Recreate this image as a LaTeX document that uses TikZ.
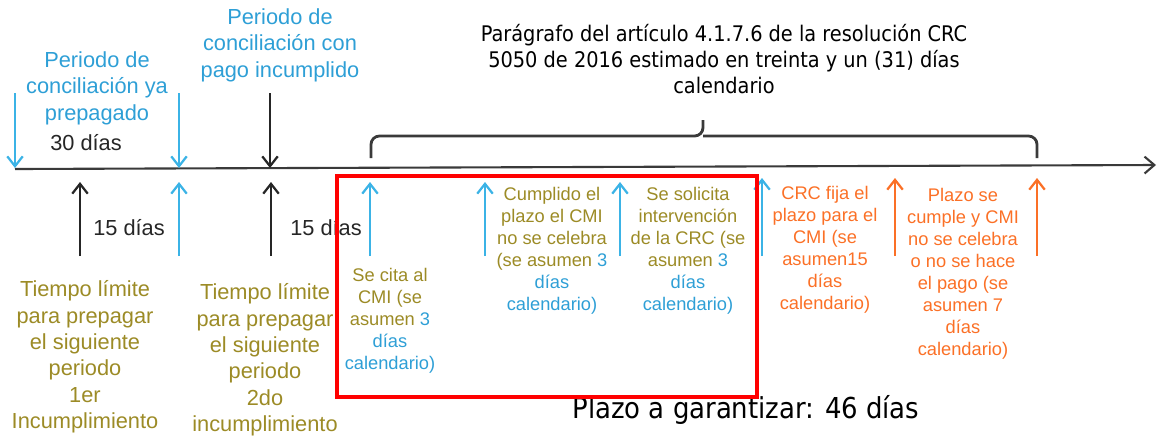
\documentclass[tikz,border=0pt]{standalone}
\usepackage{fontspec}
\setmainfont{Liberation Sans}
\newfontfamily\tahoma{DejaVu Sans Condensed}
\usetikzlibrary{arrows.meta}
\definecolor{azul}{HTML}{2E9FD6}
\definecolor{azulf}{HTML}{3BB3E6}
\definecolor{oliva}{HTML}{9C8B26}
\definecolor{naranja}{HTML}{FB7026}
\definecolor{gris}{HTML}{3A3A3A}
\definecolor{negro}{HTML}{262626}

\begin{document}
\begin{tikzpicture}[x=0.025cm,y=-0.025cm,
    flecha/.style={line width=1.6pt,-{Straight Barb[length=7pt,width=11pt,line width=1.6pt]}},
    grande/.style={inner sep=0pt,align=center,font=\fontsize{15.5}{18.8}\selectfont},
    chico/.style={inner sep=0pt,align=center,font=\fontsize{13}{15.6}\selectfont}]
    \useasboundingbox (0,0) rectangle (1158,437);

    % linea de tiempo
    \coordinate (t0) at (15,169);
    \coordinate (t1) at (1156,165);
    \draw[gris,line width=1.5pt,-{Straight Barb[length=7pt,width=12pt,line width=1.5pt]}] (t0) -- (t1);

    % flechas hacia abajo
    \foreach \n/\x/\c in {a/15/azulf,b/179/azulf,c/270/negro}{
      \coordinate (ba\n) at (\x,93);
      \coordinate (bb\n) at (\x,168);
      \draw[flecha,\c] (ba\n) -- (bb\n);
    }
    % flechas hacia arriba
    \foreach \n/\x/\a/\c in {a/80/182/negro,b/179/182/azulf,c/271/182/negro,d/370/182/azulf,
        e/485/182/azulf,f/620/182/azulf,g/762/178/azulf,h/895/178/naranja,i/1037/178/naranja}{
      \coordinate (sa\n) at (\x,256);
      \coordinate (sb\n) at (\x,\a);
      \draw[flecha,\c] (sa\n) -- (sb\n);
    }

    % llave
    \draw[gris,line width=2pt,rounded corners=6pt]
      (371,158) |- (703,136) -- (703,120);
    \draw[gris,line width=2pt,rounded corners=6pt]
      (1037,158) |- (703,136);

    \node[grande,azul] (prepago) at (97,88) {Periodo de\\conciliación ya\\prepagado};
    \node[grande,azul] (incumple) at (280,45) {Periodo de\\conciliación con\\pago incumplido};
    \node[grande,negro] (treinta) at (86,143) {30 días};
    \node[grande,negro] (quinceA) at (129,228) {15 días};
    \node[grande,negro] (quinceB) at (326,228) {15 días};
    \node[grande,oliva] (limiteA) at (85,357)
      {Tiempo límite\\para prepagar\\el siguiente\\periodo\\1er\\Incumplimiento};
    \node[grande,oliva] (limiteB) at (265,360)
      {Tiempo límite\\para prepagar\\el siguiente\\periodo\\2do\\incumplimiento};

    \node[chico,oliva] (cita) at (390,321)
      {Se cita al\\CMI (se\\asumen \textcolor{azul}{3}\\\textcolor{azul}{días}\\\textcolor{azul}{calendario)}};
    \node[chico,oliva] (cumplido) at (552,251)
      {Cumplido el\\plazo el CMI\\no se celebra\\(se asumen \textcolor{azul}{3}\\\textcolor{azul}{días}\\\textcolor{azul}{calendario)}};
    \node[chico,oliva] (solicita) at (688,251)
      {Se solicita\\intervención\\de la CRC (se\\asumen \textcolor{azul}{3}\\\textcolor{azul}{días}\\\textcolor{azul}{calendario)}};
    \node[chico,naranja] (fija) at (825,250)
      {CRC fija el\\plazo para el\\CMI (se\\asumen15\\días\\calendario)};
    \node[chico,naranja] (vence) at (963,274)
      {Plazo se\\cumple y CMI\\no se celebra\\o no se hace\\el pago (se\\asumen 7\\días\\calendario)};

    \node[inner sep=0pt,align=center,font=\tahoma\fontsize{15.3}{18.6}\selectfont] (norma) at (724,59)
      {Parágrafo del artículo 4.1.7.6 de la resolución CRC\\5050 de 2016 estimado en treinta y un (31) días\\calendario};
    \node[inner sep=0pt,font=\tahoma\fontsize{20.5}{24}\selectfont] (garantia) at (746,410)
      {Plazo a garantizar: 46 días};

    % recuadro
    \draw[red,line width=3.5pt] (337,176) rectangle (757,397);
\end{tikzpicture}
\end{document}
